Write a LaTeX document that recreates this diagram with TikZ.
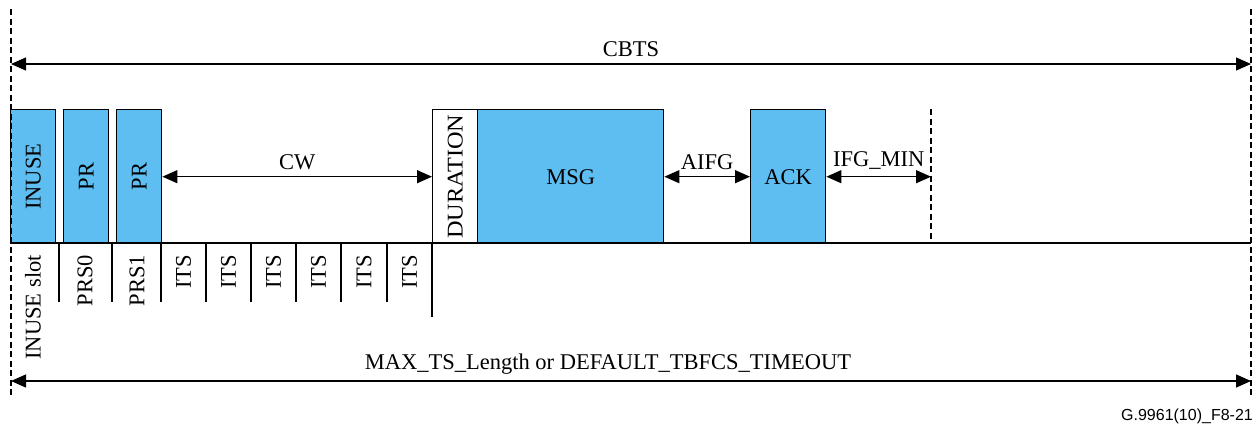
\documentclass[tikz,border=0pt]{standalone}
\usepackage{fontspec}
\setmainfont{Liberation Serif}
\newfontfamily\figsans{Liberation Sans}
\usetikzlibrary{arrows.meta}
\usetikzlibrary{positioning}
\definecolor{slotblue}{RGB}{94,190,242}

\begin{document}
\begin{tikzpicture}[x=1pt, y=-1pt, font=\fontsize{22.5}{27}\selectfont,
    slotbox/.style={draw, line width=1.4pt, fill=slotblue, minimum height=134pt, inner sep=0pt, anchor=north west}]
    \tikzset{dimarrow/.style={{Triangle[length=15pt,width=13pt]}-{Triangle[length=15pt,width=13pt]}, line width=1.3pt}}
    \tikzset{bound/.style={dashed, dash pattern=on 6pt off 3.5pt, line width=1.2pt}}
    \tikzset{slotname/.style={rotate=90, anchor=east, inner sep=0pt}}
    \useasboundingbox (0,0) rectangle (1258,423);

    % frames on the air
    \node[slotbox, minimum width=45pt] (inuse) at (10,109) {};
    \node[slotbox, minimum width=45pt] (pr0) at (63,109) {};
    \node[slotbox, minimum width=45pt] (pr1) at (116,109) {};
    \node[slotbox, minimum width=45pt, fill=white] (dur) at (432,109) {};
    \node[slotbox, minimum width=186pt] (msg) at (477,109) {};
    \node[slotbox, minimum width=75pt] (ack) at (750,109) {};
    \node[rotate=90] at (inuse) {INUSE};
    \node[rotate=90] at (pr0) {PR};
    \node[rotate=90] at (pr1) {PR};
    \node[rotate=90, xscale=1.08] at (dur) {DURATION};
    \node at (msg) {MSG};
    \node at (ack) {ACK};

    \coordinate (leftTop) at (11,9);  \coordinate (leftBot) at (11,395);
    \coordinate (rightTop) at (1251,9); \coordinate (rightBot) at (1251,395);
    \coordinate (cbtsL) at (11,64);  \coordinate (cbtsR) at (1251,64);
    \coordinate (maxL) at (11,381);  \coordinate (maxR) at (1251,381);
    \coordinate (baseL) at (11,243); \coordinate (baseR) at (1251,243);
    \coordinate (ifgTop) at (931,109); \coordinate (ifgBot) at (931,243);
    \coordinate (ifgEnd) at (ack.east -| ifgTop);

    \draw[line width=1.4pt] (baseL) -- (baseR);
    \draw[bound] (leftTop) -- (leftBot);
    \draw[bound] (rightTop) -- (rightBot);
    \draw[bound] (ifgTop) -- (ifgBot);

    % time slots below the line
    \foreach \x in {59,112,161,206,251,296,341,387}
        \draw[line width=1.4pt] (\x,243) -- (\x,302);
    \draw[line width=1.4pt] (432,243) -- (432,317);
    \foreach \x/\t in {33/INUSE slot, 85/PRS0, 137/PRS1, 183.5/ITS, 228.5/ITS, 273.5/ITS, 318.5/ITS, 364/ITS, 409.5/ITS}
        \node[slotname] (s\x) at (\x,255) {\t};

    % durations
    \draw[dimarrow] (cbtsL) -- node[above=3pt] (cbts) {CBTS} (cbtsR);
    \draw[dimarrow] (pr1.east) -- node[above=3pt] (cw) {CW} (dur.west);
    \draw[dimarrow] (msg.east) -- node[above=3pt] (aifg) {AIFG} (ack.west);
    \draw[dimarrow] (ack.east) -- node[above=3pt] (ifg) {IFG\_MIN} (ifgEnd);
    \draw[dimarrow] (maxL) -- node[above=3pt, xshift=-23pt] (maxts) {MAX\_TS\_Length or DEFAULT\_TBFCS\_TIMEOUT} (maxR);

    \node[anchor=base east, inner sep=0pt, font=\figsans\fontsize{16}{19}\selectfont] (fig) at (1253,420) {G.9961(10)\_F8-21};
\end{tikzpicture}
\end{document}
